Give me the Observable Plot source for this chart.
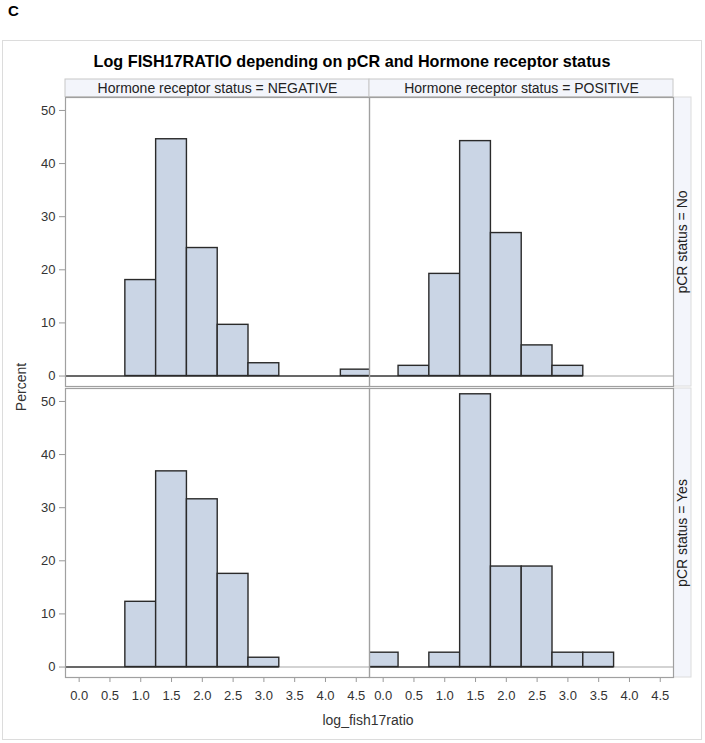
<!DOCTYPE html>
<html>
<head>
<meta charset="utf-8">
<script src="https://cdn.jsdelivr.net/npm/d3@7"></script>
<script src="https://cdn.jsdelivr.net/npm/@observablehq/plot@0.6"></script>
<style>
  body { margin: 0; background: #fff; }
  #fig { position: relative; width: 705px; height: 743px; font-family: Arial, "Liberation Sans", sans-serif; color: #333; }
  #fig svg { position: absolute; left: 0; top: 0; }
  .box { position: absolute; left: 2px; top: 40px; width: 700px; height: 700px; border: 1px solid #dcdcdc; box-sizing: border-box; }
  .letter { position: absolute; left: 8px; top: 3px; font: bold 15px Arial, "Liberation Sans", sans-serif; line-height: 16px; color: #000; }
  .title { position: absolute; left: 2px; width: 700px; top: 52px; text-align: center; font: bold 16.2px Arial, "Liberation Sans", sans-serif; line-height: 18px; color: #000; }
  .ylab { position: absolute; left: 21px; top: 387px; transform: translate(-50%, -50%) rotate(-90deg); font-size: 14px; white-space: nowrap; }
  .xlab { position: absolute; left: 368px; top: 720px; transform: translate(-50%, -50%); font-size: 14px; white-space: nowrap; }
</style>
</head>
<body>
<div id="fig"></div>
<script>
// Histogram bins: centres 0.0 … 4.5, width 0.5
const binCenters = [0.0, 0.5, 1.0, 1.5, 2.0, 2.5, 3.0, 3.5, 4.0, 4.5];
const binWidth = 0.5;
const hormoneStatus = ["NEGATIVE", "POSITIVE"];
const pcrStatus = ["No", "Yes"];
const xTicks = [0.0, 0.5, 1.0, 1.5, 2.0, 2.5, 3.0, 3.5, 4.0, 4.5];
const yTicks = [0, 10, 20, 30, 40, 50];

// Percent of patients per bin, listed up to the last bin drawn in each panel
const pctNegativeNo  = [0, 0, 18.07, 44.58, 24.10, 9.64, 2.41, 0, 0, 1.20];
const pctPositiveNo  = [0, 1.92, 19.23, 44.23, 26.92, 5.77, 1.92];
const pctNegativeYes = [0, 0, 12.28, 36.84, 31.58, 17.54, 1.75];
const pctPositiveYes = [2.70, 0, 2.70, 51.35, 18.92, 18.92, 2.70, 2.70];

const panels = [
  {hr: "NEGATIVE", pcr: "No",  pct: pctNegativeNo},
  {hr: "POSITIVE", pcr: "No",  pct: pctPositiveNo},
  {hr: "NEGATIVE", pcr: "Yes", pct: pctNegativeYes},
  {hr: "POSITIVE", pcr: "Yes", pct: pctPositiveYes}
];

const bars = panels.flatMap(p => p.pct.map((v, i) => ({
  hr: p.hr, pcr: p.pcr,
  x1: binCenters[i] - binWidth / 2, x2: binCenters[i] + binWidth / 2,
  base: 0, pct: v
})));
// outline along zero over the span of drawn bins
const baselines = panels.map(p => ({
  hr: p.hr, pcr: p.pcr,
  x1: binCenters[0] - binWidth / 2,
  x2: binCenters[p.pct.length - 1] + binWidth / 2
}));

// layout
const W = 705, H = 743;
const mLeft = 64, mRight = 32, mTop = 96, mBottom = 66;
const stripSize = 18;
const colWidth = (W - mLeft - mRight) / 2;
const rowGap = 0.007;
const rowStep = (H - mTop - mBottom) / (2 - rowGap);
const rowHeight = rowStep * (1 - rowGap);

const headerCells = hormoneStatus.map(hr => ({hr, pcr: pcrStatus[0]}));
const rowCells = pcrStatus.map(pcr => ({hr: hormoneStatus[1], pcr}));

const chart = Plot.plot({
  width: W,
  height: H,
  marginLeft: mLeft, marginRight: mRight, marginTop: mTop, marginBottom: mBottom,
  style: {fontFamily: 'Arial, "Liberation Sans", sans-serif', fontSize: "13px", color: "#333", background: "transparent"},
  x: {domain: [-0.222, 4.715]},
  y: {domain: [-1.97, 52.44]},
  fx: {domain: hormoneStatus, padding: 0, axis: null},
  fy: {domain: pcrStatus, paddingInner: rowGap, paddingOuter: 0, axis: null},
  marks: [
    // column header strips
    Plot.rect(headerCells, {fx: "hr", fy: "pcr", fill: "#f3f5fb", stroke: "#c8c8c8",
      insetTop: -stripSize, insetBottom: rowHeight}),
    Plot.text(headerCells, {fx: "hr", fy: "pcr", text: d => `Hormone receptor status = ${d.hr}`,
      frameAnchor: "top", lineAnchor: "middle", dy: -stripSize / 2, fontSize: 14, fill: "#222"}),
    // row header strips
    Plot.rect(rowCells, {fx: "hr", fy: "pcr", fill: "#f3f5fb", stroke: "#dcdcdc",
      insetLeft: colWidth, insetRight: -stripSize}),
    Plot.text(rowCells, {fx: "hr", fy: "pcr", text: d => `pCR status = ${d.pcr}`,
      frameAnchor: "right", textAnchor: "middle", lineAnchor: "middle", dx: stripSize / 2, rotate: -90, fontSize: 14, fill: "#222"}),
    Plot.ruleY([0], {stroke: "#c4c4c4", strokeWidth: 1.5}),
    Plot.ruleY(baselines, {fx: "hr", fy: "pcr", x1: "x1", x2: "x2", y: 0, stroke: "#444", strokeWidth: 1.5, clip: true}),
    Plot.rect(bars, {fx: "hr", fy: "pcr", x1: "x1", x2: "x2", y1: "base", y2: "pct",
      fill: "#cad5e5", stroke: "#2a2a2a", strokeWidth: 1.4, clip: true}),
    Plot.axisY({ticks: yTicks, tickSize: 6, tickPadding: 4, stroke: "#999", fill: "#333", label: null}),
    Plot.axisX({ticks: xTicks, tickFormat: d3.format(".1f"), tickSize: 5, tickPadding: 8, stroke: "#999", fill: "#333", label: null}),
    Plot.frame({stroke: "#a0a0a0", strokeWidth: 1.2})
  ]
});

const fig = document.getElementById("fig");
fig.appendChild(chart);
fig.insertAdjacentHTML("beforeend", `
  <div class="box"></div>
  <div class="letter">C</div>
  <div class="title">Log FISH17RATIO depending on pCR and Hormone receptor status</div>
  <div class="ylab">Percent</div>
  <div class="xlab">log_fish17ratio</div>
`);
</script>
</body>
</html>
